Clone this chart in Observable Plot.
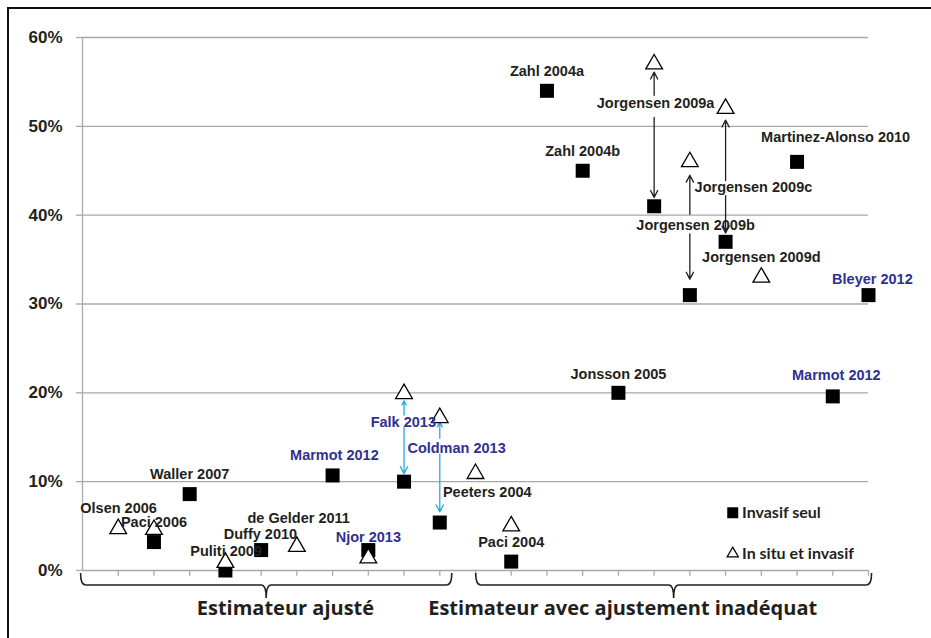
<!DOCTYPE html>
<html>
<head>
<meta charset="utf-8">
<script src="https://cdn.jsdelivr.net/npm/d3@7"></script>
<script src="https://cdn.jsdelivr.net/npm/@observablehq/plot@0.6"></script>
<style>
  html, body { margin: 0; padding: 0; background: #fff; overflow: hidden; }
  #wrap { position: relative; width: 931px; height: 638px; }
  #frame { position: absolute; left: 7px; top: 7px; width: 940px; height: 660px; border: 2px solid #111; box-sizing: border-box; pointer-events: none; }
  #chart { position: absolute; left: 0; top: 0; }
</style>
</head>
<body>
<div id="wrap"><div id="chart"></div><div id="frame"></div></div>
<script>
// Studies in display order (x = 1..22)
const studies = ["Olsen 2006","Paci 2006","Waller 2007","Puliti 2009","Duffy 2010","de Gelder 2011","Marmot 2012","Njor 2013","Falk 2013","Coldman 2013","Peeters 2004","Paci 2004","Zahl 2004a","Zahl 2004b","Jonsson 2005","Jorgensen 2009a","Jorgensen 2009b","Jorgensen 2009c","Jorgensen 2009d","Martinez-Alonso 2010","Marmot 2012","Bleyer 2012"];
// Overdiagnosis estimate, invasive cancers only (%)
const invasifSeul = [null,3.2,8.6,0,2.3,null,10.7,2.3,10,5.4,null,1,54,45,20,41,31,37,null,46,19.6,31];
// Overdiagnosis estimate, in situ + invasive (%)
const inSituEtInvasif = [4.7,4.6,null,0.9,null,2.7,null,1.4,19.9,17.2,10.9,5,null,null,null,57,46,52,33,null,null,null];
// Recent studies (blue labels)
const recent = [0,0,0,0,0,0,1,1,1,1,0,0,0,0,0,0,0,0,0,0,1,1];
// Label anchor positions (x in study units, y in %)
const labelX = [1.01,2.0,3.0,4.02,4.98,6.05,7.05,8.0,8.98,10.47,11.33,12.0,13.0,14.0,15.0,16.04,17.16,18.78,19.0,21.08,21.1,22.11];
const labelY = [7.0,5.4,10.8,2.2,4.1,5.85,13.0,3.7,16.7,13.7,8.8,3.2,56.2,47.2,22.1,52.6,38.9,43.15,35.2,48.8,22.0,32.8];
// Arrows linking the two estimates (segments split around labels): x, from %, to %
const arrowX    = [16,16,17,17,18,18,9,9,10,10];
const arrowFrom = [53.5,51.0,40.1,37.9,43.9,42.2,17.5,16.2,14.9,13.1];
const arrowTo   = [56.1,42.0,44.5,32.8,50.7,38.0,19.1,10.9,16.7,6.6];
const arrowBlue = [0,0,0,0,0,0,1,1,1,1];
// Axis ticks
const yTicks = [0,10,20,30,40,50,60];
const xTicks = d3.range(1,23);
// Groups (brace from/to in study units)
const groups = ["Estimateur ajusté","Estimateur avec ajustement inadéquat"];
const groupFrom = [-0.04, 11.02];
const groupTo = [10.35, 22.1];
const groupLabelX = [5.68, 15.12];
// Legend
const legendLabels = ["Invasif seul","In situ et invasif"];

const dark = "#231f20", blue = "#2e3192", lightBlue = "#27aae1", grid = "#a7a9ac";
const pts = studies.map((s,i)=>({i, name:s, x:i+1, inv:invasifSeul[i], ins:inSituEtInvasif[i], recent:recent[i], lx:labelX[i], ly:labelY[i]}));
const arrows = arrowX.map((x,i)=>({x, y1:arrowFrom[i], y2:arrowTo[i], blue:arrowBlue[i]}));
const braces = groups.map((g,i)=>({g, x0:groupFrom[i], x1:groupTo[i], lx:groupLabelX[i]}));

const braceMark = (index, scales, values, dimensions, context) => {
  const svg = d3.create("svg:g");
  const x = scales.x, y = scales.y;
  for (const b of braces) {
    const a = x(b.x0), c = x(b.x1), m = (a + c) / 2;
    const top = y(0) + 3, mid = y(0) + 15, tip = y(0) + 28, r = 5;
    const p = d3.path();
    p.moveTo(a, top);
    p.quadraticCurveTo(a, mid, a + r, mid);
    p.lineTo(m - r, mid);
    p.quadraticCurveTo(m, mid, m, tip);
    p.quadraticCurveTo(m, mid, m + r, mid);
    p.lineTo(c - r, mid);
    p.quadraticCurveTo(c, mid, c, top);
    svg.append("path").attr("d", p.toString()).attr("fill","none").attr("stroke", dark).attr("stroke-width", 1.6);
  }
  return svg.node();
};

const chart = Plot.plot({
  width: 931, height: 638,
  marginLeft: 82, marginRight: 63, marginTop: 37, marginBottom: 68,
  x: {type:"linear", domain:[0,22], axis:null},
  y: {type:"linear", domain:[0,60], axis:null},
  style: {fontFamily: "'Liberation Sans', Arial, sans-serif", background: "transparent"},
  marks: [
    Plot.ruleY(yTicks, {x1:0, x2:22, stroke:grid, strokeWidth:1.3}),
    Plot.ruleX([0], {y1:0, y2:60, stroke:grid, strokeWidth:1.3}),
    Plot.ruleY(yTicks, {x1:0, x2:-0.17, stroke:grid, strokeWidth:1.3}),
    Plot.ruleX(xTicks, {y1:0, y2:-0.65, stroke:grid, strokeWidth:1.3}),
    Plot.text(yTicks, {x:0, y:d=>d, text:d=>d+"%", textAnchor:"end", dx:-20, fontSize:17, fontWeight:"bold", fill:dark}),
    braceMark,
    Plot.text(braces, {x:"lx", y:-4.24, text:"g", fontFamily:"'Open Sans', Lato, sans-serif", fontWeight:700, fontSize:20, fill:dark}),
    Plot.arrow(arrows, {x1:"x", x2:"x", y1:"y1", y2:"y2", stroke:d=>d.blue?lightBlue:dark, strokeWidth:1.3, headLength:9, headAngle:55}),
    Plot.dot(pts.filter(d=>d.inv!=null), {x:"x", y:"inv", symbol:"square", r:7.9, fill:"#000", stroke:"none"}),
    Plot.dot(pts.filter(d=>d.ins!=null), {x:"x", y:"ins", symbol:"triangle", r:6.2, fill:"#fff", stroke:"#000", strokeWidth:1.3}),
    Plot.text(pts, {x:"lx", y:"ly", text:"name", fontSize:14.5, fontWeight:"bold", fill:d=>d.recent?blue:dark}),
    Plot.dot([legendLabels[0]], {x:18.2, y:6.5, symbol:"square", r:6.2, fill:"#000"}),
    Plot.dot([legendLabels[1]], {x:18.2, y:1.9, symbol:"triangle", r:4.2, fill:"#fff", stroke:"#000", strokeWidth:1.2}),
    Plot.text(legendLabels, {x:18.46, y:(d,i)=>i===0?6.5:1.9, text:d=>d, textAnchor:"start", fontFamily:"Lato, 'Open Sans', sans-serif", fontWeight:"bold", fontSize:16, fill:dark})
  ]
});
document.getElementById("chart").appendChild(chart);
</script>
</body>
</html>
